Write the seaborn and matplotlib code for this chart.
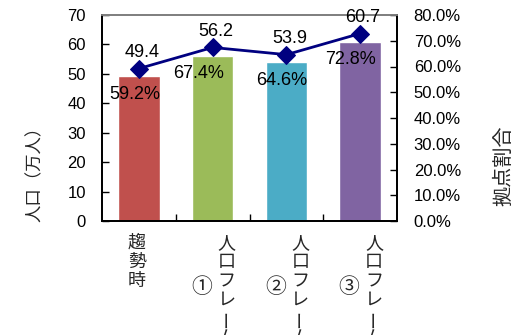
import numpy as np
import pandas as pd
import matplotlib
matplotlib.use("Agg")
import matplotlib.pyplot as plt
import seaborn as sns
from matplotlib.ticker import FuncFormatter

# Data
categories = ["趨勢時", "人口フレーム①", "人口フレーム②", "人口フレーム③"]
population = [49.4, 56.2, 53.9, 60.7]      # 人口（万人）
hub_share = [59.2, 67.4, 64.6, 72.8]       # 拠点割合（%）
left_ticks = [0, 10, 20, 30, 40, 50, 60, 70]
right_ticks = [0, 10, 20, 30, 40, 50, 60, 70, 80]

# Style
bar_colors = ["#C0504D", "#9BBB59", "#4BACC6", "#8064A2"]
line_color = "#000080"
circled = set("①②③④⑤")

sns.set_theme(style="white")
plt.rcParams["font.family"] = ["Liberation Sans", "Noto Sans CJK JP", "DejaVu Sans"]
jp_font = ["Noto Sans CJK JP", "DejaVu Sans"]

W, H = 522, 335
fig = plt.figure(figsize=(W / 100, H / 100), dpi=100)
fig.patch.set_facecolor("white")
ax = fig.add_axes([102 / W, 1 - 221 / H, 295 / W, 206 / H])

df = pd.DataFrame({"区分": categories, "人口": population, "拠点割合": hub_share})
sns.barplot(data=df, x="区分", y="人口", hue="区分", palette=bar_colors,
            saturation=1, width=0.56, legend=False, ax=ax)

ax2 = ax.twinx()
sns.lineplot(x=np.arange(len(categories)), y=hub_share, ax=ax2, color=line_color,
             marker="D", markersize=9, markeredgecolor=line_color,
             linewidth=2.0, legend=False)

ax.set_xlim(-0.5, len(categories) - 0.5)
ax.set_ylim(left_ticks[0], left_ticks[-1])
ax2.set_ylim(right_ticks[0], right_ticks[-1])
ax.set_yticks(left_ticks)
ax2.set_yticks(right_ticks)
ax2.yaxis.set_major_formatter(FuncFormatter(lambda v, p: f"{v:.1f}%"))
ax.set_xticks(np.arange(len(categories) - 1) + 0.5)
ax.set_xticklabels([])
ax.set_xlabel("")
ax.set_ylabel("")
ax2.set_ylabel("")

ax.tick_params(axis="y", direction="in", length=5, width=1, left=True,
               labelsize=12, pad=11.5, colors="black")
ax.tick_params(axis="x", direction="in", length=5, width=1, bottom=True,
               colors="black")
ax2.tick_params(axis="y", direction="in", length=5, width=1, right=True,
                labelsize=12, pad=12, colors="black")

for a in (ax, ax2):
    for side, sp in a.spines.items():
        sp.set_visible(True)
        sp.set_linewidth(1.3)
        sp.set_color("#808080" if side == "top" else "black")

# Value labels: population above each marker, share below it
share_dx = [-4.5, -14.5, -4.5, -10]
for i, (p, s) in enumerate(zip(population, hub_share)):
    ax2.annotate(f"{p:.1f}", xy=(i, s), xytext=(3 * 0.72, 16 * 0.72),
                 textcoords="offset points", ha="center", va="center",
                 fontsize=13, color="black")
    ax2.annotate(f"{s:.1f}%", xy=(i, s), xytext=(share_dx[i] * 0.72, -26 * 0.72),
                 textcoords="offset points", ha="center", va="center",
                 fontsize=13, color="black")

# Vertical (stacked) category labels
step = 19
for i, label in enumerate(categories):
    mark = label[-1] if label[-1] in circled else ""
    body = label[:-1] if mark else label
    dx = 14 if mark else -2
    for k, ch in enumerate(body):
        ax.annotate(ch, xy=(i, 0), xycoords=("data", "axes fraction"),
                    xytext=(dx * 0.72, -(22 + k * step) * 0.72),
                    textcoords="offset points", ha="center", va="center",
                    fontsize=13, family=jp_font,
                    rotation=90 if ch == "ー" else 0,
                    annotation_clip=False)
    if mark:
        ax.annotate(mark, xy=(i, 0), xycoords=("data", "axes fraction"),
                    xytext=(-11 * 0.72, -66 * 0.72),
                    textcoords="offset points", ha="center", va="center",
                    fontsize=15, family=jp_font, annotation_clip=False)

fig.text(35 / W, 1 - 170 / H, "人口（万人）", rotation=90, ha="center",
         va="center", fontsize=12.5, family=jp_font)
fig.text(504 / W, 1 - 166 / H, "拠点割合", rotation=90, ha="center",
         va="center", fontsize=14.5, family=jp_font)

fig.savefig("out.png", dpi=100, facecolor="white")
